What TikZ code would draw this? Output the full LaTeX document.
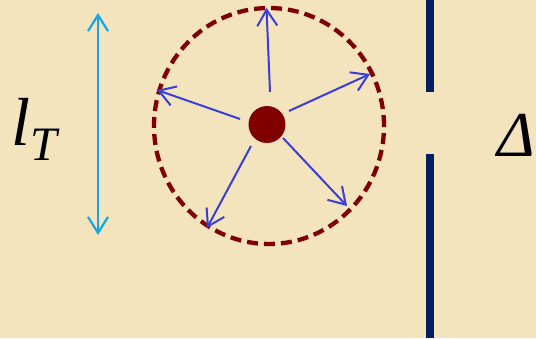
\documentclass[tikz,border=0pt]{standalone}
\usepackage{fontspec}
\setmainfont{Liberation Serif}
\usetikzlibrary{arrows.meta}
\definecolor{parchment}{RGB}{243,228,190}
\definecolor{rayblue}{RGB}{58,62,214}
\definecolor{sizecyan}{RGB}{22,168,230}
\definecolor{darkred}{RGB}{128,0,0}
\definecolor{wallnavy}{RGB}{0,32,96}
\begin{document}
\begin{tikzpicture}[x=1pt,y=1pt,
    ray/.style={draw=rayblue, line width=2pt, -{Straight Barb[length=16pt,width=20pt]}},
    sizearrow/.style={draw=sizecyan, line width=2.2pt, {Straight Barb[length=16pt,width=20pt]}-{Straight Barb[length=16pt,width=20pt]}},
    wall/.style={draw=wallnavy, line width=7.5pt}]
  \fill[parchment] (0,0) rectangle (536,338);
  \useasboundingbox (0,0) rectangle (536,338);

  % source and its emission sphere
  \node[circle, fill=darkred, minimum size=37pt, inner sep=0] (src) at (267,213.5) {};
  \draw[darkred, line width=4.3pt, dash pattern=on 11pt off 6pt] (269,212) ellipse [x radius=115, y radius=118];

  \coordinate (s1) at (270,246);  \coordinate (e1) at (266.5,330);
  \coordinate (s2) at (289,227);  \coordinate (e2) at (370,264);
  \coordinate (s3) at (240,219);  \coordinate (e3) at (157,248);
  \coordinate (s4) at (251,192);  \coordinate (e4) at (207,110);
  \coordinate (s5) at (283,200);  \coordinate (e5) at (347,132);
  \foreach \i in {1,...,5}
    \draw[ray] (s\i) -- (e\i);

  % size of the source region
  \coordinate (ltop) at (98,325);
  \coordinate (lbot) at (98,103);
  \draw[sizearrow] (lbot) -- (ltop);
  \node[anchor=base west, inner sep=0] (lT) at (11,193)
    {\fontsize{68}{68}\selectfont\itshape l\raisebox{-16pt}{\fontsize{48}{48}\selectfont T}};

  % screen with slit
  \coordinate (wtop) at (430,338);   \coordinate (wtopend) at (430,245.5);
  \coordinate (wbot) at (430,184);   \coordinate (wbotend) at (430,0);
  \draw[wall] (wtop) -- (wtopend);
  \draw[wall] (wbot) -- (wbotend);
  \node[anchor=base west, inner sep=0] (delta) at (497,181)
    {\fontsize{64}{64}\selectfont\itshape Δ};
\end{tikzpicture}
\end{document}
